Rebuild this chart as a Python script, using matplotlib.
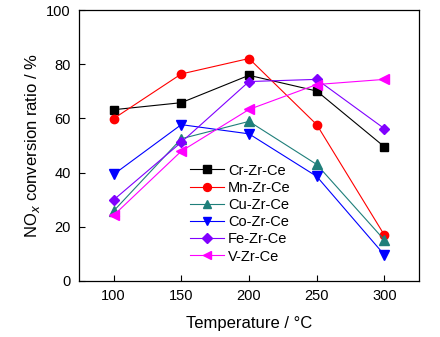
import matplotlib
matplotlib.use("Agg")
import matplotlib.pyplot as plt

plt.rcParams['font.family'] = ['Liberation Sans', 'DejaVu Sans']

# conversion data vs temperature
temps = [100, 150, 200, 250, 300]
cr_zr_ce = [63.2, 65.8, 75.9, 70.1, 49.5]
mn_zr_ce = [59.9, 76.4, 82.1, 57.7, 16.9]
cu_zr_ce = [25.8, 52.5, 58.9, 43.0, 15.1]
co_zr_ce = [39.3, 57.7, 54.3, 38.6, 9.6]
fe_zr_ce = [29.9, 51.2, 73.6, 74.4, 56.2]
v_zr_ce = [24.2, 47.9, 63.3, 72.5, 74.4]

labels = ["Cr-Zr-Ce", "Mn-Zr-Ce", "Cu-Zr-Ce", "Co-Zr-Ce", "Fe-Zr-Ce", "V-Zr-Ce"]
series = [cr_zr_ce, mn_zr_ce, cu_zr_ce, co_zr_ce, fe_zr_ce, v_zr_ce]
colors = ["black", "#ff0000", "#1f7f7a", "#0000ff", "#8000ff", "#ff00ff"]
markers = ["s", "o", "^", "v", "D", "<"]
msizes = [5.5, 6, 6.5, 6.5, 5, 6.5]

fig = plt.figure(figsize=(4.4, 3.37), dpi=100)
ax = fig.add_axes([79 / 440, 1 - 281 / 337, 340 / 440, 271 / 337])

for vals, lab, c, m, ms in zip(series, labels, colors, markers, msizes):
    ax.plot(temps, vals, color=c, marker=m, markersize=ms, linewidth=0.8,
            label=lab)

ax.set_xlim(74.5, 325.5)
ax.set_ylim(0, 100)
ax.set_xticks(temps)
ax.set_yticks([0, 20, 40, 60, 80, 100])
ax.tick_params(direction='in', length=4, width=0.8, labelsize=10.5, pad=6)
for sp in ax.spines.values():
    sp.set_linewidth(0.9)

ax.set_xlabel("Temperature / °C", fontsize=12, labelpad=9)
ax.set_ylabel("NO$_x$ conversion ratio / %", fontsize=12, labelpad=3)

ax.legend(loc='upper left', bbox_to_anchor=(0.31, 0.455), frameon=False,
          fontsize=10.5, handlelength=2.3, handletextpad=0.3,
          labelspacing=0.22, borderaxespad=0, markerscale=0.95)

fig.savefig("out.png", dpi=100)
